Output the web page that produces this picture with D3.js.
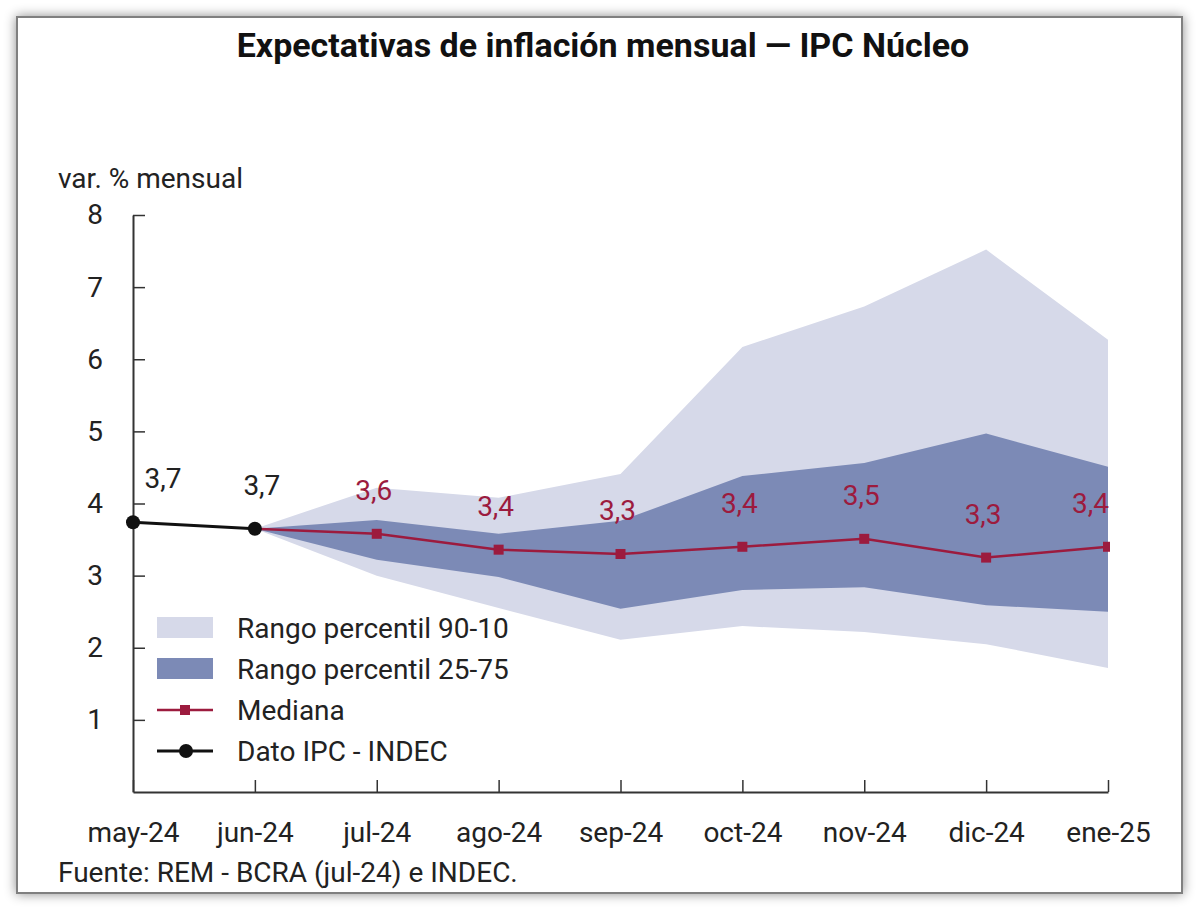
<!DOCTYPE html>
<html lang="es">

<head>
    <meta charset="UTF-8">
    <title>Expectativas de inflación mensual</title>
    <script src="https://cdn.jsdelivr.net/npm/d3@7"></script>
    <style>
        body { margin: 0; background: #fff; }
        text { font-family: Roboto, "Noto Sans", sans-serif; }
    </style>
</head>

<body>

    <svg width="1200" height="912" id="mainsvg"></svg>

    <script>
        // datos
        const months = ['may-24', 'jun-24', 'jul-24', 'ago-24', 'sep-24', 'oct-24', 'nov-24', 'dic-24', 'ene-25'];
        const ipcMonths = ['may-24', 'jun-24'];
        const ipcValues = [3.74, 3.65];
        const ipcLabels = ['3,7', '3,7'];

        // meses de las bandas (arrancan en el último dato observado)
        const bandMonths = ['jun-24', 'jul-24', 'ago-24', 'sep-24', 'oct-24', 'nov-24', 'dic-24', 'ene-25'];
        const p10 = [3.65, 3.00, 2.55, 2.11, 2.30, 2.22, 2.05, 1.72];
        const p25 = [3.65, 3.22, 2.98, 2.54, 2.80, 2.84, 2.59, 2.50];
        const p75 = [3.65, 3.77, 3.58, 3.76, 4.38, 4.56, 4.97, 4.51];
        const p90 = [3.65, 4.22, 4.08, 4.41, 6.17, 6.73, 7.52, 6.27];
        const median = [3.65, 3.58, 3.36, 3.30, 3.40, 3.51, 3.25, 3.40];
        const medianLabels = [null, '3,6', '3,4', '3,3', '3,4', '3,5', '3,3', '3,4'];

        const yTicks = [1, 2, 3, 4, 5, 6, 7, 8];

        const svg = d3.select('#mainsvg');
        const lightBand = '#d6d9e9';
        const darkBand = '#7c8ab6';
        const red = '#9c1b3e';
        const fs = 28;

        // marco con sombra
        const defs = svg.append('defs');
        const shadow = defs.append('filter').attr('id', 'shadow')
            .attr('x', '-5%').attr('y', '-5%').attr('width', '110%').attr('height', '110%');
        shadow.append('feDropShadow')
            .attr('dx', 0).attr('dy', 0).attr('stdDeviation', 6)
            .attr('flood-color', '#000').attr('flood-opacity', 0.45);
        svg.append('rect')
            .attr('x', 17).attr('y', 17).attr('width', 1165).attr('height', 876)
            .attr('fill', '#fff').attr('stroke', '#808080').attr('stroke-width', 2)
            .attr('filter', 'url(#shadow)');

        defs.append('clipPath').attr('id', 'plotclip')
            .append('rect').attr('x', 120).attr('y', 150).attr('width', 990).attr('height', 660);

        // escalas
        const xScale = d3.scalePoint().domain(months).range([133, 1108]);
        const yScale = d3.scaleLinear().domain([0, 8]).range([792, 215]);

        const g = svg.append('g');
        const plot = g.append('g').attr('clip-path', 'url(#plotclip)');

        const bandData = bandMonths.map((m, i) => ({ m, p10: p10[i], p25: p25[i], p75: p75[i], p90: p90[i], med: median[i], lab: medianLabels[i] }));

        // bandas
        plot.append('path').datum(bandData)
            .attr('fill', lightBand)
            .attr('d', d3.area().x(d => xScale(d.m)).y0(d => yScale(d.p10)).y1(d => yScale(d.p90)));
        plot.append('path').datum(bandData)
            .attr('fill', darkBand)
            .attr('d', d3.area().x(d => xScale(d.m)).y0(d => yScale(d.p25)).y1(d => yScale(d.p75)));

        // mediana
        plot.append('path').datum(bandData)
            .attr('fill', 'none').attr('stroke', red).attr('stroke-width', 2.5)
            .attr('d', d3.line().x(d => xScale(d.m)).y(d => yScale(d.med)));
        plot.selectAll('.medpt').data(bandData.slice(1)).enter()
            .append('rect').attr('class', 'medpt')
            .attr('x', d => xScale(d.m) - 5).attr('y', d => yScale(d.med) - 5)
            .attr('width', 10).attr('height', 10).attr('fill', red);

        // dato IPC
        const ipcData = ipcMonths.map((m, i) => ({ m, v: ipcValues[i], lab: ipcLabels[i] }));
        g.append('path').datum(ipcData)
            .attr('fill', 'none').attr('stroke', '#111').attr('stroke-width', 3)
            .attr('d', d3.line().x(d => xScale(d.m)).y(d => yScale(d.v)));

        // ejes
        const yAxis = d3.axisLeft(yScale).tickValues(yTicks).tickSizeInner(-12).tickSizeOuter(0).tickPadding(30);
        const yAxisGroup = g.append('g').attr('transform', `translate(${xScale(months[0])},0)`).call(yAxis);
        const xAxis = d3.axisBottom(xScale).tickSizeInner(-12).tickSizeOuter(0).tickPadding(30);
        const xAxisGroup = g.append('g').attr('transform', `translate(0,${yScale(0)})`).call(xAxis);
        [yAxisGroup, xAxisGroup].forEach(ax => {
            ax.selectAll('.domain').attr('stroke', '#333').attr('stroke-width', 2);
            ax.selectAll('.tick line').attr('stroke', '#333').attr('stroke-width', 1.5);
            ax.selectAll('text').attr('font-size', fs).attr('fill', '#222')
                .attr('font-family', 'Roboto, sans-serif');
        });

        g.selectAll('.ipcpt').data(ipcData).enter()
            .append('circle').attr('class', 'ipcpt')
            .attr('cx', d => xScale(d.m)).attr('cy', d => yScale(d.v))
            .attr('r', 7).attr('fill', '#111');

        // etiquetas
        g.selectAll('.ipclab').data(ipcData).enter()
            .append('text').attr('class', 'ipclab')
            .attr('x', (d, i) => xScale(d.m) + (i === 0 ? 30 : 7))
            .attr('y', d => yScale(d.v) - 34)
            .attr('text-anchor', 'middle').attr('font-size', fs).attr('fill', '#222')
            .text(d => d.lab);
        g.selectAll('.medlab').data(bandData.slice(1)).enter()
            .append('text').attr('class', 'medlab')
            .attr('x', (d, i, n) => xScale(d.m) + (i === n.length - 1 ? 1 : -3))
            .attr('y', d => yScale(d.med) - 34)
            .attr('text-anchor', (d, i, n) => i === n.length - 1 ? 'end' : 'middle')
            .attr('font-size', fs).attr('fill', red)
            .text(d => d.lab);

        // leyenda
        const legend = g.append('g').attr('transform', 'translate(157,628)');
        const items = [
            { label: 'Rango percentil 90-10', type: 'box', color: lightBand },
            { label: 'Rango percentil 25-75', type: 'box', color: darkBand },
            { label: 'Mediana', type: 'square', color: red },
            { label: 'Dato IPC - INDEC', type: 'circle', color: '#111' }
        ];
        items.forEach((it, i) => {
            const row = legend.append('g').attr('transform', `translate(0,${i * 41})`);
            if (it.type === 'box') {
                row.append('rect').attr('x', 0).attr('y', -11).attr('width', 56).attr('height', 21).attr('fill', it.color);
            } else {
                row.append('line').attr('x1', 0).attr('x2', 56).attr('y1', 0).attr('y2', 0)
                    .attr('stroke', it.color).attr('stroke-width', it.type === 'circle' ? 3 : 2.5);
                if (it.type === 'square') {
                    row.append('rect').attr('x', 23).attr('y', -5).attr('width', 10).attr('height', 10).attr('fill', it.color);
                } else {
                    row.append('circle').attr('cx', 29).attr('cy', 0).attr('r', 7).attr('fill', it.color);
                }
            }
            row.append('text').attr('x', 80).attr('y', 0).attr('dy', '0.35em')
                .attr('font-size', fs).attr('fill', '#222').text(it.label);
        });

        // textos
        svg.append('text').attr('x', 603).attr('y', 57).attr('text-anchor', 'middle')
            .attr('font-size', 34).attr('font-weight', 'bold').attr('fill', '#111')
            .text('Expectativas de inflación mensual — IPC Núcleo');
        svg.append('text').attr('x', 58).attr('y', 188)
            .attr('font-size', fs).attr('fill', '#222').text('var. % mensual');
        svg.append('text').attr('x', 58).attr('y', 882)
            .attr('font-size', fs).attr('fill', '#222').text('Fuente: REM - BCRA (jul-24) e INDEC.');
    </script>
</body>

</html>
